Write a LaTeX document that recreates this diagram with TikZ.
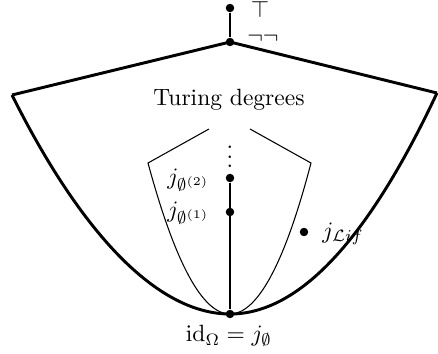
\documentclass[tikz,border=0pt]{standalone}
\usepackage{amssymb}
\begin{document}
\begin{tikzpicture}[x=0.425pt,y=-0.425pt,
  thickline/.style={line width=1.25pt, line join=round},
  thinline/.style={line width=0.45pt},
  midline/.style={line width=0.55pt},
  pt/.style={circle, fill=black, inner sep=0pt, minimum size=3.6pt}]
\useasboundingbox (0,0) rectangle (438,354);
% points
\node[pt] (top) at (230,8) {};
\node[pt] (nn) at (230,42) {};
\coordinate (L) at (12,95);
\coordinate (R) at (437,93);
\node[pt] (bot) at (230,314) {};
\node[pt] (j1) at (230,212) {};
\node[pt] (j2) at (230,178) {};
\node[pt] (lif) at (304,232) {};
\coordinate (iL) at (148,163);
\coordinate (iR) at (311,163);
\coordinate (iLt) at (209,129);
\coordinate (iRt) at (250,129);
% outer shape
\draw[thickline] (L) -- (nn.center) -- (R);
\draw[thickline] (L) .. controls (85,241) and (161,314) .. (bot.center)
  .. controls (299,314) and (368,240) .. (R);
\draw[midline] (top) -- (nn);
% inner shape
\draw[thinline] (iLt) -- (iL) .. controls (175.3,263.7) and (202.7,314) .. (bot.center);
\draw[thinline] (iRt) -- (iR) .. controls (284.7,263.7) and (257.3,314) .. (bot.center);
\draw[midline] (j2) -- (bot);
% labels
\node[inner sep=0pt] (tlab) at (260,9) {$\top$};
\node[inner sep=0pt] (nnlab) at (263,38) {$\neg\neg$};
\node (td) at (229,100) {Turing degrees};
\node[inner sep=0pt] (vd) at (230,150) {$\vdots$};
\node[anchor=east] (j2lab) at (218,180) {$j_{\emptyset^{(2)}}$};
\node[anchor=east] (j1lab) at (218,213) {$j_{\emptyset^{(1)}}$};
\node[anchor=west] (liflab) at (314,234) {$j_{\mathcal{L}if}$};
\node (idlab) at (229,336) {$\mathrm{id}_\Omega = j_\emptyset$};
\end{tikzpicture}
\end{document}
